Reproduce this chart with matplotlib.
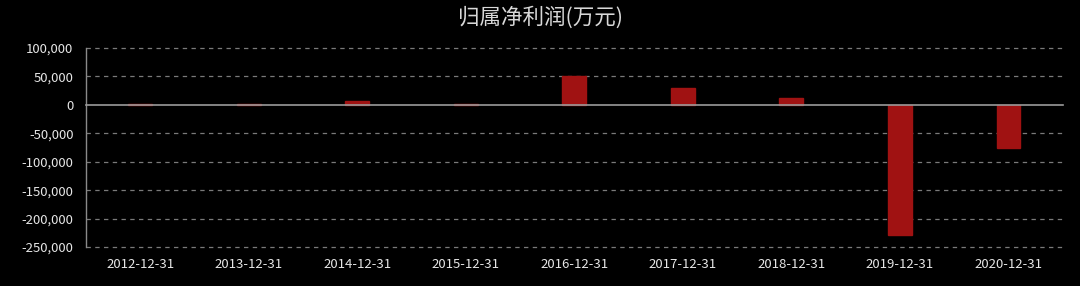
import matplotlib
matplotlib.use("Agg")
import matplotlib.pyplot as plt
from matplotlib.ticker import FuncFormatter

plt.rcParams['font.family'] = ['Noto Sans CJK SC', 'DejaVu Sans']

categories = ["2012-12-31", "2013-12-31", "2014-12-31", "2015-12-31", "2016-12-31",
              "2017-12-31", "2018-12-31", "2019-12-31", "2020-12-31"]
values = [1500, 1500, 7000, 800, 51000, 30000, 11500, -229000, -75500]
yticks = [100000, 50000, 0, -50000, -100000, -150000, -200000, -250000]

fig = plt.figure(figsize=(10.8, 2.86), dpi=100, facecolor="black")
ax = fig.add_axes([0.0796, 0.1364, 0.9044, 0.6956], facecolor="black")

x = list(range(len(categories)))
ax.bar(x, values, width=0.22, color="#a01212", edgecolor="#a01212", zorder=3)

ax.set_xlim(-0.5, len(categories) - 0.5)
ax.set_ylim(-250000, 100000)
ax.set_yticks(yticks)
ax.yaxis.set_major_formatter(FuncFormatter(lambda v, p: f"{int(v):,}"))
ax.set_xticks(x)
ax.set_xticklabels(categories)

for t in yticks:
    if t == 0:
        ax.axhline(t, color="#9a9a9a", lw=1.2, zorder=4, clip_on=False)
    else:
        ax.axhline(t, color="#7a7a7a", lw=0.9, ls=(0, (3.5, 3.5)), zorder=1,
                   clip_on=False)

for s in ["top", "right", "bottom"]:
    ax.spines[s].set_visible(False)
ax.spines["left"].set_color("#8a8a8a")
ax.spines["left"].set_linewidth(1)

ax.tick_params(axis="both", length=0, colors="#e6e6e6", labelsize=9.5)
ax.tick_params(axis="x", pad=8)
ax.tick_params(axis="y", pad=9)

fig.text(0.5, 0.94, "归属净利润(万元)", ha="center", va="center",
         color="#d8d8d8", fontsize=15.5)

fig.savefig("out.png", dpi=100, facecolor="black")
